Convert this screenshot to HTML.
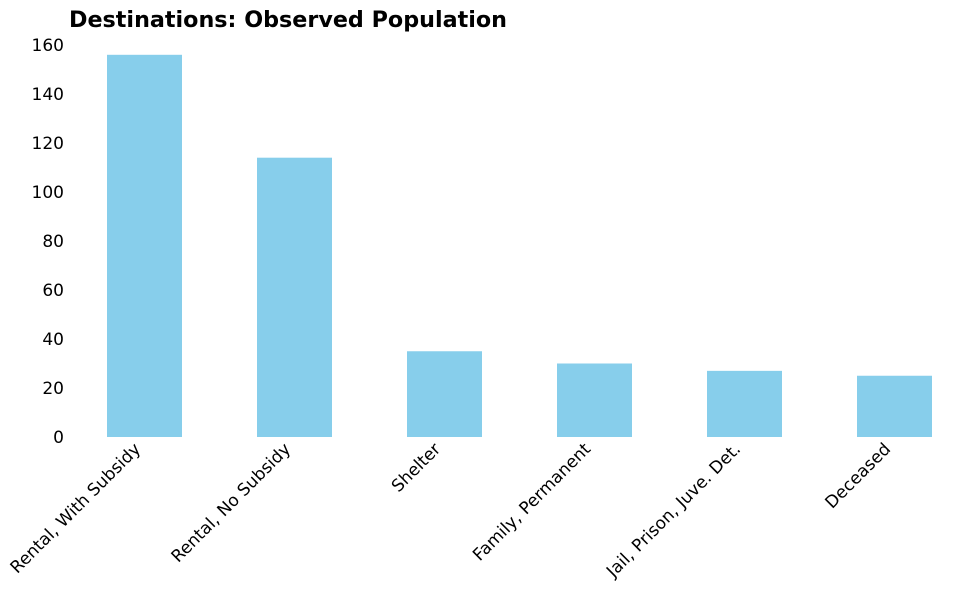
<!DOCTYPE html>
<html><head><meta charset="utf-8"><style>body{margin:0;background:#fff}svg text{font-family:"DejaVu Sans","Liberation Sans",sans-serif}</style></head>
<body>
<svg id="chart" width="979" height="590" xmlns="http://www.w3.org/2000/svg">
<text x="69" y="27" font-size="22" font-weight="bold" textLength="438" lengthAdjust="spacingAndGlyphs">Destinations: Observed Population</text>
<g id="bars"></g><g id="yticks"></g><g id="xticks"></g>
</svg>
<script>
const categories = ["Rental, With Subsidy","Rental, No Subsidy","Shelter","Family, Permanent","Jail, Prison, Juve. Det.","Deceased"];
const values = [156,114,35,30,27,25];
const yTicks = [0,20,40,60,80,100,120,140,160];
const NS="http://www.w3.org/2000/svg";
const x0=69.5, step=150, bw=75, yBase=437, yTop=45, yMax=160;
const y = v => yBase - v*(yBase-yTop)/yMax;
const xc = i => x0 + step*(i+0.5);
const bars=document.getElementById('bars'), yt=document.getElementById('yticks'), xt=document.getElementById('xticks');
values.forEach((v,i)=>{
  const r=document.createElementNS(NS,'rect');
  
  
  r.setAttribute('x',xc(i)-bw/2);r.setAttribute('width',bw);
  r.setAttribute('y',y(v));r.setAttribute('height',yBase-y(v));
  r.setAttribute('fill','#87ceeb');
  bars.appendChild(r);
});
yTicks.forEach(t=>{
  const e=document.createElementNS(NS,'text');
  
  
  e.setAttribute('x',64);e.setAttribute('y',y(t)+6);
  e.setAttribute('text-anchor','end');e.setAttribute('font-size','17');
  e.textContent=t;yt.appendChild(e);
});
categories.forEach((c,i)=>{
  const e=document.createElementNS(NS,'text');
  
  
  const tx=xc(i)-3, ty=450;
  e.setAttribute('x',tx);e.setAttribute('y',ty);
  e.setAttribute('text-anchor','end');e.setAttribute('font-size','17');
  e.setAttribute('transform','rotate(-45 '+tx+' '+ty+')');
  e.textContent=c;xt.appendChild(e);
});
</script>
</body></html>
